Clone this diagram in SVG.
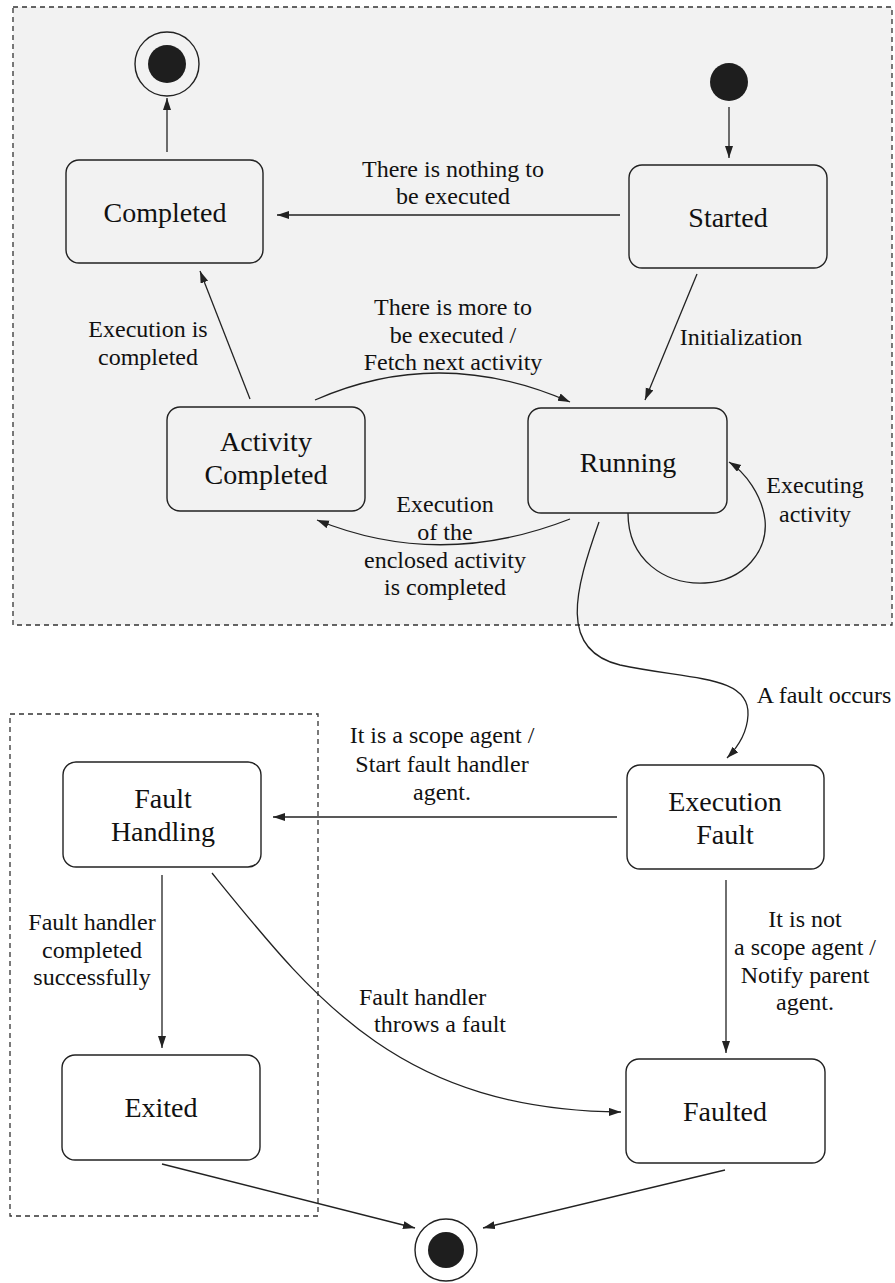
<svg xmlns="http://www.w3.org/2000/svg" width="895" height="1283" viewBox="0 0 895 1283">
<style>
.node rect{fill:none;stroke:#222;stroke-width:1.4}
.ntxt{font-family:"Liberation Serif",serif;font-size:28px;fill:#111;text-anchor:middle}
.lbl{font-family:"Liberation Serif",serif;font-size:24px;fill:#111;text-anchor:middle}
.lbs{font-family:"Liberation Serif",serif;font-size:24px;fill:#111}
.edge{fill:none;stroke:#222;stroke-width:1.3;marker-end:url(#ah)}
.frame{stroke:#333;stroke-width:1.3;stroke-dasharray:5,4}
</style>
<defs>
<marker id="ah" markerWidth="13" markerHeight="9" refX="12" refY="4" orient="auto" markerUnits="userSpaceOnUse">
<path d="M0,0 L12,4 L0,8 z" fill="#222"/>
</marker>
</defs>
<rect x="0" y="0" width="895" height="1283" fill="#fff"/>
<g id="frames">
<rect class="frame" x="13" y="7" width="879" height="618" fill="#f2f2f2"/>
<rect class="frame" x="10" y="714" width="308" height="502" fill="none"/>
</g>
<g id="final-top">
<circle cx="167" cy="64" r="32" fill="none" stroke="#222" stroke-width="1.4"/>
<circle cx="167" cy="64" r="19" fill="#1e1e1e"/>
</g>
<g id="initial">
<circle cx="729" cy="82" r="19" fill="#1e1e1e"/>
</g>
<g id="completed" class="node">
<rect x="66" y="160" width="197" height="103" rx="13"/>
<text class="ntxt" x="165" y="222">Completed</text>
</g>
<g id="started" class="node">
<rect x="629" y="165" width="198" height="103" rx="13"/>
<text class="ntxt" x="728" y="227">Started</text>
</g>
<g id="activity-completed" class="node">
<rect x="167" y="407" width="198" height="104" rx="13"/>
<text class="ntxt" x="266" y="451">Activity</text>
<text class="ntxt" x="266" y="484">Completed</text>
</g>
<g id="running" class="node">
<rect x="528" y="408" width="199" height="105" rx="13"/>
<text class="ntxt" x="628" y="472">Running</text>
</g>
<g id="fault-handling" class="node">
<rect x="63" y="762" width="198" height="105" rx="13"/>
<text class="ntxt" x="163" y="808">Fault</text>
<text class="ntxt" x="163" y="841">Handling</text>
</g>
<g id="execution-fault" class="node">
<rect x="627" y="765" width="197" height="104" rx="13"/>
<text class="ntxt" x="725" y="811">Execution</text>
<text class="ntxt" x="725" y="844">Fault</text>
</g>
<g id="exited" class="node">
<rect x="62" y="1055" width="198" height="105" rx="13"/>
<text class="ntxt" x="161" y="1117">Exited</text>
</g>
<g id="faulted" class="node">
<rect x="626" y="1059" width="199" height="104" rx="13"/>
<text class="ntxt" x="725" y="1121">Faulted</text>
</g>
<g id="final-bottom">
<circle cx="446" cy="1250" r="31" fill="none" stroke="#222" stroke-width="1.4"/>
<circle cx="446" cy="1250" r="18" fill="#1e1e1e"/>
</g>
<g id="connectors">
<path class="edge" d="M167,152 L167,98"/>
<path class="edge" d="M729,107 L729,158"/>
<path class="edge" d="M620,215 L277,215"/>
<path class="edge" d="M697,274 L645,400"/>
<path class="edge" d="M250,399 L200,271"/>
<path class="edge" d="M315,400 Q440,345 570,402"/>
<path class="edge" d="M570,519 Q440,570 317,520"/>
<path class="edge" d="M628,513 C628,560 665,585 705,583 C745,581 768,550 765,520 C762,495 745,472 729,462"/>
<path class="edge" d="M599,522 C575,590 558,650 620,665 C690,680 750,675 748,715 C747,735 737,748 727,758"/>
<path class="edge" d="M617,817 L273,817"/>
<path class="edge" d="M726,880 L726,1053"/>
<path class="edge" d="M162,875 L162,1048"/>
<path class="edge" d="M212,873 C315,1000 400,1110 621,1112"/>
<path class="edge" d="M162,1164 L415,1228"/>
<path class="edge" d="M725,1170 L483,1228"/>
</g>
<g id="labels">
<text class="lbl" x="453" y="177">There is nothing to</text>
<text class="lbl" x="453" y="204">be executed</text>
<text class="lbl" x="741" y="345">Initialization</text>
<text class="lbl" x="148" y="337">Execution is</text>
<text class="lbl" x="148" y="365">completed</text>
<text class="lbl" x="453" y="315">There is more to</text>
<text class="lbl" x="453" y="343">be executed /</text>
<text class="lbl" x="453" y="370">Fetch next activity</text>
<text class="lbl" x="445" y="512">Execution</text>
<text class="lbl" x="445" y="540">of the</text>
<text class="lbl" x="445" y="568">enclosed activity</text>
<text class="lbl" x="445" y="595">is completed</text>
<text class="lbl" x="815" y="493">Executing</text>
<text class="lbl" x="815" y="522">activity</text>
<text class="lbl" x="824" y="703">A fault occurs</text>
<text class="lbl" x="442" y="743">It is a scope agent /</text>
<text class="lbl" x="442" y="772">Start fault handler</text>
<text class="lbl" x="442" y="800">agent.</text>
<text class="lbl" x="92" y="930">Fault handler</text>
<text class="lbl" x="92" y="958">completed</text>
<text class="lbl" x="92" y="985">successfully</text>
<text class="lbl" x="805" y="927">It is not</text>
<text class="lbl" x="805" y="955">a scope agent /</text>
<text class="lbl" x="805" y="983">Notify parent</text>
<text class="lbl" x="805" y="1010">agent.</text>
<text class="lbs" x="359" y="1005">Fault handler</text>
<text class="lbs" x="374" y="1032">throws a fault</text>
</g>
</svg>
